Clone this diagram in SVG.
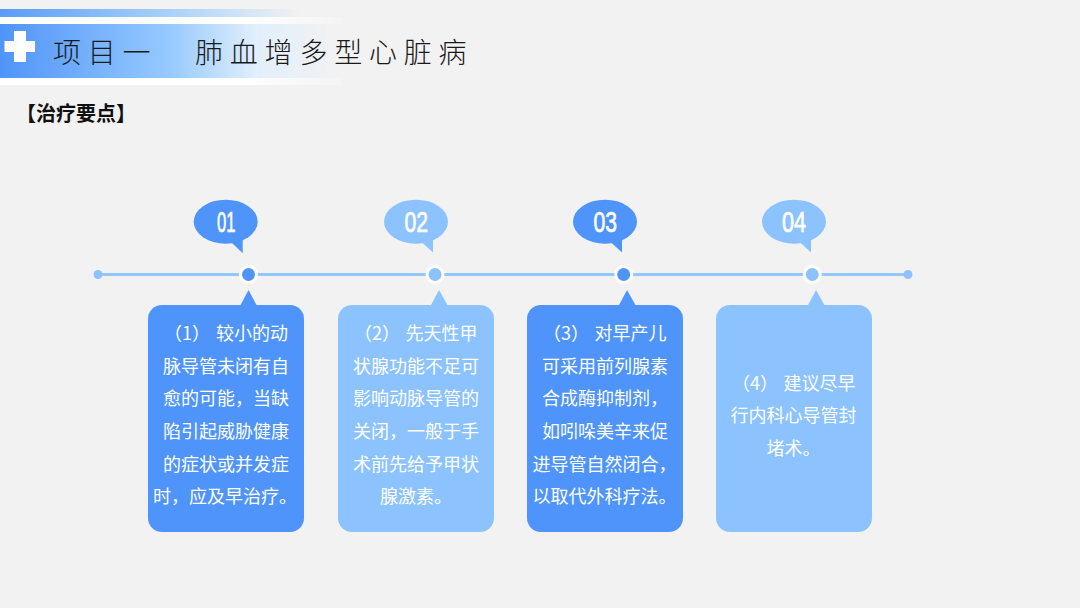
<svg xmlns="http://www.w3.org/2000/svg" width="1080" height="608" viewBox="0 0 1080 608">
<style>
.cjk{font-family:"Noto Sans CJK SC","Noto Sans",sans-serif}
.title{font-size:28px;font-weight:300;fill:#1a1a1a;letter-spacing:6.800px}
.sub{font-size:20px;font-weight:700;fill:#111}
.body{font-size:18px;fill:#fff}
.num{font-family:"Liberation Sans",Arial,sans-serif;font-size:29px;font-weight:400;fill:#fff;stroke:#fff;stroke-width:.7px}
.dark{fill:#4f94fb}
.light{fill:#8cc3ff}
.ring{fill:#fff}
.tl{stroke:#93c7ff;stroke-width:3;fill:none}
</style>
<defs>
<linearGradient id="band" x1="0" x2="1" y1="0" y2="0"><stop offset="0" stop-color="#4f94f8"/><stop offset=".5" stop-color="#97caff"/><stop offset=".75" stop-color="#e2effc"/><stop offset="1" stop-color="#f2f2f2"/></linearGradient>
<linearGradient id="bar" x1="0" x2="1" y1="0" y2="0"><stop offset="0" stop-color="#5a9cf8"/><stop offset=".55" stop-color="#a5d0fc"/><stop offset="1" stop-color="#f2f2f2"/></linearGradient>
<linearGradient id="white" x1="0" x2="1" y1="0" y2="0"><stop offset="0" stop-color="#fff"/><stop offset=".7" stop-color="#fff"/><stop offset="1" stop-color="#f4f4f4"/></linearGradient>
</defs>
<rect width="1080" height="608" fill="#f2f2f2"/>
<g id="header">
<rect x="0" y="9" width="300" height="8" fill="url(#bar)"/>
<rect x="0" y="17" width="342" height="7" fill="url(#white)"/>
<rect x="0" y="24" width="342" height="54" fill="url(#band)"/>
<rect x="0" y="78" width="342" height="7" fill="url(#white)"/>
<path d="M14 31H26V41H35V52H26V62H14V52H4.500V41H14Z" fill="#fff"/>
<text class="cjk title" x="53" y="63">项目一</text>
<text class="cjk title" x="195" y="63">肺血增多型心脏病</text>
<text class="cjk sub" x="16" y="121">【治疗要点】</text>
</g>
<g id="connectors">
<line class="tl" x1="98" y1="274.500" x2="908" y2="274.500"/>
<circle class="light" cx="98" cy="274.500" r="4.500"/>
<circle class="light" cx="908" cy="274.500" r="4.500"/>
</g>
<g id="step1">
<ellipse class="dark" cx="225.700" cy="221.700" rx="32" ry="22"/>
<path class="dark" d="M231 242L242.700 238V253.300Z"/>
<text class="num" x="217" y="232" textLength="18.500" lengthAdjust="spacingAndGlyphs">01</text>
<circle class="ring" cx="248.500" cy="274.500" r="9.500"/><circle class="dark" cx="248.500" cy="274.500" r="6.500"/>
<path class="dark" d="M248.500 290L240 306H257Z"/>
<rect class="dark" x="148" y="305" width="156" height="227" rx="14"/>
<text class="cjk body"><tspan x="164" y="340">（1）</tspan><tspan x="216" y="340">较小的动</tspan><tspan x="163" y="372.700">脉导管未闭有自</tspan><tspan x="163" y="405">愈的可能，当缺</tspan><tspan x="163" y="437.700">陷引起威胁健康</tspan><tspan x="163" y="470.500">的症状或并发症</tspan><tspan x="153" y="503">时，应及早治疗。</tspan></text>
</g>
<g id="step2">
<ellipse class="light" cx="416" cy="221.700" rx="32" ry="22"/>
<path class="light" d="M421.500 242L433 238V252.500Z"/>
<text class="num" x="404.500" y="232" textLength="23.500" lengthAdjust="spacingAndGlyphs">02</text>
<circle class="ring" cx="435" cy="274.500" r="9.500"/><circle class="light" cx="435" cy="274.500" r="6.500"/>
<path class="light" d="M439 290L430.500 306H448Z"/>
<rect class="light" x="338" y="305" width="156" height="227" rx="14"/>
<text class="cjk body"><tspan x="354" y="340">（2）</tspan><tspan x="405.500" y="340">先天性甲</tspan><tspan x="353" y="372.700">状腺功能不足可</tspan><tspan x="353" y="405">影响动脉导管的</tspan><tspan x="353" y="437.700">关闭，一般于手</tspan><tspan x="353" y="470.500">术前先给予甲状</tspan><tspan x="380" y="503">腺激素。</tspan></text>
</g>
<g id="step3">
<ellipse class="dark" cx="605" cy="221.700" rx="32" ry="22"/>
<path class="dark" d="M610.500 242L622 238V252.500Z"/>
<text class="num" x="593.500" y="232" textLength="23.500" lengthAdjust="spacingAndGlyphs">03</text>
<circle class="ring" cx="623.700" cy="274.500" r="9.500"/><circle class="dark" cx="623.700" cy="274.500" r="6.500"/>
<path class="dark" d="M627 290L618.500 306H636Z"/>
<rect class="dark" x="527" y="305" width="156" height="227" rx="14"/>
<text class="cjk body"><tspan x="543" y="340">（3）</tspan><tspan x="594.500" y="340">对早产儿</tspan><tspan x="542" y="372.700">可采用前列腺素</tspan><tspan x="542" y="405">合成酶抑制剂，</tspan><tspan x="542" y="437.700">如吲哚美辛来促</tspan><tspan x="532.500" y="470.500">进导管自然闭合，</tspan><tspan x="532.500" y="503">以取代外科疗法。</tspan></text>
</g>
<g id="step4">
<ellipse class="light" cx="794" cy="221.700" rx="32" ry="22"/>
<path class="light" d="M799.500 242L811 238V252.500Z"/>
<text class="num" x="782" y="232" textLength="24" lengthAdjust="spacingAndGlyphs">04</text>
<circle class="ring" cx="812.300" cy="274.500" r="9.500"/><circle class="light" cx="812.300" cy="274.500" r="6.500"/>
<path class="light" d="M816 290L807.500 306H825Z"/>
<rect class="light" x="716" y="305" width="156" height="227" rx="14"/>
<text class="cjk body"><tspan x="732" y="389.500">（4）</tspan><tspan x="783.500" y="389.500">建议尽早</tspan><tspan x="730.500" y="422">行内科心导管封</tspan><tspan x="766.500" y="454.500">堵术。</tspan></text>
</g>
</svg>
